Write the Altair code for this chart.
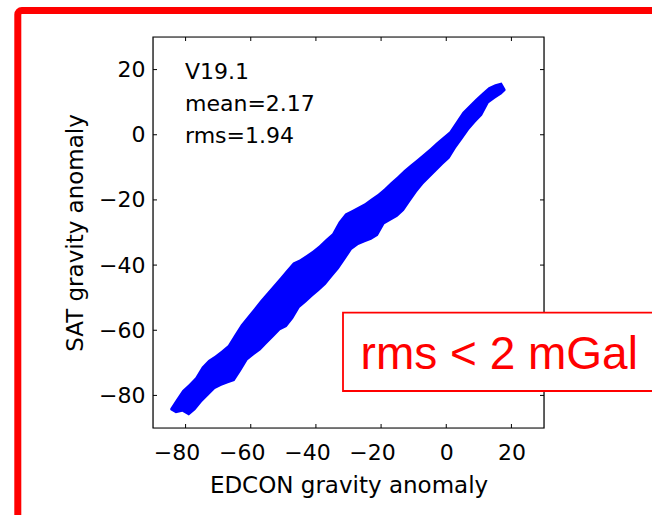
import altair as alt
import pandas as pd

# ---- data ----
band_x = [-84.7, -83, -81, -79, -77, -75, -73, -71, -69, -67, -65, -63, -61, -59,
          -57, -55, -53, -51, -49, -47, -45, -43, -41, -39, -37, -35, -33, -31,
          -29, -27, -25, -23, -21, -19, -17, -15, -13, -11, -9, -7, -5, -3, -1,
          1, 3, 5, 7, 9, 11, 13, 15, 17, 18.2]
band_top = [-84.0, -81.4, -78.4, -76.6, -74.5, -71.2, -69.1, -67.8, -66.3, -64.6,
            -61.4, -58.2, -55.8, -53.3, -50.8, -48.5, -46.2, -43.9, -41.5, -39.2,
            -38.3, -37.0, -35.6, -34.0, -32.1, -30.3, -26.7, -24.2, -23.2, -22.1,
            -21.0, -19.6, -18.2, -16.5, -14.6, -12.8, -10.9, -9.2, -7.6, -5.9,
            -4.2, -2.4, -0.7, 1.0, 4.0, 7.0, 9.0, 11.0, 12.8, 14.6, 15.5, 16.0, 14.0]
band_bottom = [-84.5, -85.5, -85.0, -86.2, -84.5, -82.0, -80.0, -78.0, -77.0, -76.3,
               -75.6, -72.5, -69.2, -67.6, -66.1, -64.1, -62.1, -60.0, -59.0, -56.5,
               -53.1, -51.4, -49.6, -47.9, -46.0, -43.6, -41.2, -38.3, -35.3, -33.8,
               -33.0, -32.2, -31.0, -27.5, -26.3, -25.2, -23.3, -20.4, -17.6, -15.1,
               -13.1, -11.1, -9.1, -7.3, -4.1, -1.3, 1.5, 3.8, 5.9, 9.7, 11.1, 12.4, 13.6]
tick_values = [-80, -60, -40, -20, 0, 20]
axis_domain = [-90, 30]
annot_lines = ["V19.1", "mean=2.17", "rms=1.94"]
x_title = "EDCON gravity anomaly"
y_title = "SAT gravity anomaly"
callout = "rms < 2 mGal"

W = 391
H = 391
FONT = "DejaVu Sans"

band = pd.DataFrame({"x": band_x, "top": band_top, "bottom": band_bottom})
ticks = pd.DataFrame({"t": tick_values})
one = pd.DataFrame({"k": [0]})

xscale = alt.Scale(domain=axis_domain, nice=False, zero=False)
yscale = alt.Scale(domain=axis_domain, nice=False, zero=False)

area = alt.Chart(band).mark_area(color="#0000ff", opacity=1).encode(
    x=alt.X("x:Q", scale=xscale, axis=alt.Axis(
        title=x_title, values=tick_values, labelPadding=14,
        labelOffset={"condition": {"test": "datum.value < 0", "value": -9}, "value": 0},
        titleBaseline="alphabetic", titleY=64)),
    y=alt.Y("top:Q", scale=yscale, axis=alt.Axis(
        title=y_title, values=tick_values, labelPadding=8,
        titleAngle=270, titleBaseline="alphabetic", titleX=-71, titleY=H / 2,
        titleAlign="center")),
    y2="bottom:Q",
)

frame = alt.Chart(one).mark_rect(fill="transparent", stroke="black", strokeWidth=1.2).encode(
    x=alt.value(0), x2=alt.value(W), y=alt.value(0), y2=alt.value(H))

tick_b = alt.Chart(ticks).mark_rule(color="black", strokeWidth=1).encode(
    x=alt.X("t:Q", scale=xscale), y=alt.value(H), y2=alt.value(H - 4))
tick_t = alt.Chart(ticks).mark_rule(color="black", strokeWidth=1).encode(
    x=alt.X("t:Q", scale=xscale), y=alt.value(0), y2=alt.value(4))
tick_l = alt.Chart(ticks).mark_rule(color="black", strokeWidth=1).encode(
    y=alt.Y("t:Q", scale=yscale), x=alt.value(0), x2=alt.value(4))
tick_r = alt.Chart(ticks).mark_rule(color="black", strokeWidth=1).encode(
    y=alt.Y("t:Q", scale=yscale), x=alt.value(W), x2=alt.value(W - 4))

annots = []
for i, line in enumerate(annot_lines):
    annots.append(
        alt.Chart(one).mark_text(font=FONT, fontSize=22, color="black", align="left",
                                 baseline="alphabetic").encode(
            x=alt.value(32), y=alt.value(42.3 + 31.7 * i), text=alt.value(line)))

box = alt.Chart(one).mark_rect(fill="white", stroke="#ff0000", strokeWidth=1.8).encode(
    x=alt.value(190), x2=alt.value(520), y=alt.value(275.7), y2=alt.value(354))
box_text = alt.Chart(one).mark_text(font="Liberation Sans", fontSize=46, color="#ff0000",
                                    align="left", baseline="alphabetic").encode(
    x=alt.value(207.6), y=alt.value(332.3), text=alt.value(callout))

border = alt.Chart(one).mark_rect(fill="transparent", stroke="#ff0000", strokeWidth=7,
                                  cornerRadius=4).encode(
    x=alt.value(-135.2), x2=alt.value(700), y=alt.value(-26.5), y2=alt.value(700))

chart = alt.layer(area, frame, tick_b, tick_t, tick_l, tick_r, *annots, box, box_text,
                  border).properties(
    width=W, height=H,
    autosize=alt.AutoSizeParams(type="none"),
    padding={"left": 153, "top": 37, "right": 108, "bottom": 87},
).configure_view(stroke=None, fill="white").configure(
    background="white"
).configure_axis(
    grid=False, domain=False, ticks=False,
    labelFont=FONT, labelFontSize=22, labelColor="black",
    labelFlush=False, labelOverlap=False,
    titleFont=FONT, titleFontSize=23, titleFontWeight="normal", titleColor="black",
)

chart.save("out.html", embed_options={"renderer": "svg", "actions": False})
